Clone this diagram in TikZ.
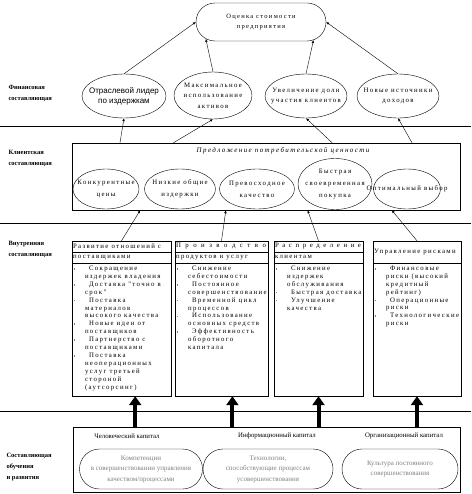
\documentclass[tikz,border=0pt]{standalone}
\usepackage{fontspec}
\setmainfont{Liberation Serif}
\newfontfamily\wide{Liberation Serif}[LetterSpace=20]
\newfontfamily\arialfont{Liberation Sans}
\usetikzlibrary{shapes.geometric,shapes.misc,arrows.meta}

% bullet and continuation indent for the lists
\newcommand\bl{\makebox[15pt][l]{\hspace{1.5pt}\textcolor{gray}{\rule[0.8pt]{1.6pt}{1.6pt}}}\hspace{2pt}}
\newcommand\cl{\makebox[13pt]{}}

\begin{document}
\begin{tikzpicture}[x=1pt,y=-1pt,
  every node/.style={font=\wide\fontsize{6.8}{7.9}\selectfont},
  ell/.style={draw,ellipse,inner sep=0pt},
  stad/.style={draw,rounded rectangle,inner sep=0pt},
  box/.style={draw,inner sep=0pt},
  txt/.style={align=center,font=\wide\fontsize{6.8}{10.5}\selectfont},
  lbl/.style={align=left,anchor=west,font=\bfseries\fontsize{6.5}{11}\selectfont},
  lst/.style={align=left,anchor=north west,inner sep=0pt},
  gry/.style={stad,minimum height=40pt,align=center,text=gray,font=\fontsize{7}{10.5}\selectfont},
  arr/.style={-{Latex[length=3pt,width=2.5pt]}},
  thickarr/.style={line width=4pt,-{Triangle[length=9pt,width=12pt]}}]
  \useasboundingbox (0,0) rectangle (471,494);

  % separators between the perspectives
  \draw (0,126) -- (471,126);
  \draw (0,223) -- (471,223);
  \draw (0,411) -- (471,411);

  % top
  \node[stad,minimum width=130pt,minimum height=38pt,font=\wide\fontsize{6.5}{10}\selectfont,align=center] (val) at (261,22) {Оценка стоимости\\предприятия};

  % financial
  \node[lbl] (lf) at (5,93) {Финансовая\\составляющая};
  \node[ell,minimum width=84pt,minimum height=44pt] (f1) at (124,96) {};
  \node[align=center,font=\arialfont\fontsize{8}{10}\selectfont] at (f1) {Отраслевой лидер\\по издержкам};
  \node[ell,minimum width=78pt,minimum height=47pt] (f2) at (213,95.5) {};
  \node[txt] at (f2) {Максимальное\\использование\\активов};
  \node[ell,minimum width=82pt,minimum height=44pt] (f3) at (306,96) {};
  \node[txt] at (f3) {Увеличение доли\\участия клиентов};
  \node[ell,minimum width=82pt,minimum height=44pt] (f4) at (398,96) {};
  \node[txt] at (f4) {Новые источники\\доходов};

  \draw[arr] (f1.north) -- (val.west);
  \draw[arr] (f2.north) -- (val.197);
  \draw[arr] (f3.north) -- (val.341);
  \draw[arr] (f4.north) -- (val.east);

  % customer
  \node[lbl] (lc) at (5,158) {Клиентская\\составляющая};
  \node[box,minimum width=388pt,minimum height=67pt] (cbox) at (266,176.5) {};
  \node[font=\wide\itshape\fontsize{7}{8}\selectfont] at (283,151) {Предложение потребительской ценности};
  \node[ell,minimum width=66pt,minimum height=40pt] (c1) at (106,189) {};
  \node[txt,font=\wide\fontsize{6.8}{12}\selectfont] at (c1) {Конкурентные\\цены};
  \node[ell,minimum width=71pt,minimum height=40pt] (c2) at (180,189) {};
  \node[txt,font=\wide\fontsize{6.8}{12}\selectfont] at (c2) {Низкие общие\\издержки};
  \node[ell,minimum width=75pt,minimum height=40pt] (c3) at (257,189) {};
  \node[txt,font=\wide\fontsize{6.8}{12}\selectfont] at (c3) {Превосходное\\качество};
  \node[ell,minimum width=74pt,minimum height=51pt] (c4) at (335,184) {};
  \node[txt,font=\wide\fontsize{6.8}{12}\selectfont] at (c4) {Быстрая\\своевременная\\покупка};
  \node[ell,minimum width=67pt,minimum height=40pt] (c5) at (407,189) {};
  \node[txt] at (c5) {Оптимальный выбор};

  \draw[arr] (cbox.167) -- (f1.south);
  \draw[arr] (cbox.160) -- (f2.south);
  \draw[arr] (cbox.27) -- (f3.south);
  \draw[arr] (cbox.13) -- (f4.south);

  % internal
  \node[lbl] (li) at (5,249) {Внутренняя\\составляющая};
  \node[box,minimum width=99pt,minimum height=155pt] (b1) at (121.5,318.5) {};
  \node[box,minimum width=93pt,minimum height=155pt] (b2) at (221.5,318.5) {};
  \node[box,minimum width=89pt,minimum height=155pt] (b3) at (318.5,318.5) {};
  \node[box,minimum width=88pt,minimum height=155pt] (b4) at (417,318.5) {};
  \foreach \b in {b1,b2,b3} {
    \draw ([yshift=-11pt]\b.north west) -- ([yshift=-11pt]\b.north east);
    \draw ([yshift=-22pt]\b.north west) -- ([yshift=-22pt]\b.north east);
  }
  \draw ([yshift=-22pt]b4.north west) -- ([yshift=-22pt]b4.north east);

  \node[anchor=west,inner sep=1pt] at ([yshift=-5.5pt]b1.north west) {Развитие отношений с};
  \node[anchor=west,inner sep=1pt] at ([yshift=-16.5pt]b1.north west) {поставщиками};
  \node[anchor=west,inner sep=1pt] at ([yshift=-5.5pt]b2.north west) {\makebox[90pt][s]{П р о и з в о д с т в о}};
  \node[anchor=west,inner sep=1pt] at ([yshift=-16.5pt]b2.north west) {продуктов и услуг};
  \node[anchor=west,inner sep=1pt] at ([yshift=-5.5pt]b3.north west) {\makebox[86pt][s]{Р а с п р е д е л е н и е}};
  \node[anchor=west,inner sep=1pt] at ([yshift=-16.5pt]b3.north west) {клиентам};
  \node[anchor=west,inner sep=1pt] at ([yshift=-11pt]b4.north west) {Управление рисками};

  \node[lst] at ([yshift=-25pt]b1.north west) {\bl Сокращение\\ \cl издержек владения\\
    \bl Доставка "точно в\\ \cl срок"\\
    \bl Поставка\\ \cl материалов\\ \cl высокого качества\\
    \bl Новые идеи от\\ \cl поставщиков\\
    \bl Партнерство с\\ \cl поставщиками\\
    \bl Поставка\\ \cl неоперационных\\ \cl услуг третьей\\ \cl стороной\\ \cl (аутсорсинг)};
  \node[lst] at ([yshift=-25pt]b2.north west) {\bl Снижение\\ \cl себестоимости\\
    \bl Постоянное\\ \cl совершенствование\\
    \bl Временной цикл\\ \cl процессов\\
    \bl Использование\\ \cl основных средств\\
    \bl Эффективность\\ \cl оборотного\\ \cl капитала};
  \node[lst] at ([yshift=-25pt]b3.north west) {\bl Снижение\\ \cl издержек\\ \cl обслуживания\\
    \bl Быстрая доставка\\
    \bl Улучшение\\ \cl качества};
  \node[lst] at ([yshift=-25pt]b4.north west) {\bl Финансовые\\ \cl риски (высокий\\ \cl кредитный\\ \cl рейтинг)\\
    \bl Операционные\\ \cl риски\\
    \bl Технологические\\ \cl риски};

  \draw[arr] (b1.north) -- (cbox.195);
  \draw[arr] (b2.north) -- (cbox.220);
  \draw[arr] (b3.north) -- (cbox.321);
  \draw[arr] (b4.north) -- (cbox.345);

  % learning and growth
  \node[lbl] (ll) at (3,467) {Составляющая\\обучения\\и развития};
  \node[box,minimum width=387pt,minimum height=65pt] (lbox) at (266.5,459.5) {};
  \node[font=\fontsize{6.8}{8}\selectfont] (h1) at (127,436) {Человеческий капитал};
  \node[font=\fontsize{6.8}{8}\selectfont] (h2) at (277,436) {Информационный капитал};
  \node[font=\fontsize{6.8}{8}\selectfont] (h3) at (404,436) {Организационный капитал};
  \node[gry,minimum width=123pt] (s1) at (141,469) {Компетенции\\в совершенствовании управления\\качеством/процессами};
  \node[gry,minimum width=130pt] (s2) at (268,469) {Технологии,\\способствующие процессам\\усовершенствования};
  \node[gry,minimum width=116pt] (s3) at (400,469) {Культура постоянного\\совершенствования};

  \draw[thickarr] (b1.-80 |- lbox.north) -- (b1.-80);
  \draw[thickarr] (b2.-82 |- lbox.north) -- (b2.-82);
  \draw[thickarr] (b3.south |- lbox.north) -- (b3.south);
  \draw[thickarr] (b4.south |- lbox.north) -- (b4.south);
\end{tikzpicture}
\end{document}
